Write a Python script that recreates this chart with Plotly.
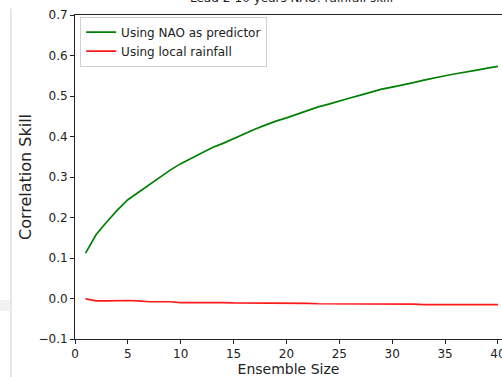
import plotly.graph_objects as go

ensemble_size = list(range(1, 41))
nao_skill = [0.112, 0.158, 0.189, 0.218, 0.244, 0.262, 0.282, 0.300, 0.317, 0.333,
             0.347, 0.361, 0.373, 0.383, 0.395, 0.408, 0.418, 0.428, 0.438, 0.446,
             0.455, 0.464, 0.473, 0.480, 0.488, 0.495, 0.502, 0.509, 0.517, 0.522,
             0.527, 0.533, 0.539, 0.545, 0.550, 0.555, 0.559, 0.564, 0.569, 0.573]
local_skill = [-0.001, -0.006, -0.006, -0.005, -0.005, -0.006, -0.008, -0.008, -0.008, -0.010,
               -0.010, -0.010, -0.009, -0.010, -0.011, -0.011, -0.011, -0.011, -0.011, -0.011,
               -0.012, -0.012, -0.013, -0.013, -0.013, -0.013, -0.013, -0.014, -0.014, -0.013,
               -0.014, -0.014, -0.015, -0.015, -0.014, -0.014, -0.015, -0.015, -0.015, -0.015]
x_ticks = [0, 5, 10, 15, 20, 25, 30, 35, 40]
y_ticks = [-0.1, 0.0, 0.1, 0.2, 0.3, 0.4, 0.5, 0.6, 0.7]
title_text = "Lead 2-10 years NAO: rainfall skill"

FONT = "DejaVu Sans"

fig = go.Figure()
fig.add_trace(go.Scatter(x=ensemble_size, y=nao_skill, mode="lines",
                         name="Using NAO as predictor",
                         line=dict(color="#008000", width=1.7)))
fig.add_trace(go.Scatter(x=ensemble_size, y=local_skill, mode="lines",
                         name="Using local rainfall",
                         line=dict(color="#ff1a1a", width=1.7)))

axis_common = dict(showgrid=False, zeroline=False, showline=True, linecolor="#222",
                   linewidth=1, ticks="outside", ticklen=4, tickwidth=1, tickcolor="#222",
                   automargin=False, ticklabeloverflow="allow",
                   tickfont=dict(family=FONT, size=12, color="#222"))

fig.update_layout(
    width=502, height=377,
    margin=dict(l=75, r=0, t=15, b=38, autoexpand=False),
    paper_bgcolor="white", plot_bgcolor="white",
    font=dict(family=FONT, color="#222"),
    showlegend=True,
    legend=dict(x=0.012, y=0.995, xanchor="left", yanchor="top",
                bgcolor="rgba(255,255,255,0.8)", bordercolor="#d0d0d0", borderwidth=1,
                font=dict(family=FONT, size=12, color="#222"),
                itemwidth=30, tracegroupgap=0),
    xaxis=dict(range=[0, 40.38], tickvals=x_ticks, ticktext=[str(v) for v in x_ticks],
               mirror=True,
               title=dict(text="Ensemble Size", font=dict(family=FONT, size=14, color="#222"),
                          standoff=2),
               **axis_common),
    yaxis=dict(range=[-0.1, 0.7], tickvals=y_ticks,
               ticktext=[f"{v:.1f}".replace("-", "\u2212") for v in y_ticks],
               title=dict(text="Correlation Skill", font=dict(family=FONT, size=16, color="#222"),
                          standoff=2),
               **axis_common),
)

fig.add_annotation(text=title_text, xref="paper", yref="paper", x=0.508, y=1.025,
                   xanchor="center", yanchor="bottom", showarrow=False,
                   font=dict(family=FONT, size=12, color="#222"))

# screenshot artefacts on the left edge
fig.add_shape(type="line", xref="paper", yref="paper", x0=-0.15, x1=-0.15, y0=-0.12, y1=1.02,
              line=dict(color="#cccccc", width=1))
fig.add_shape(type="rect", xref="paper", yref="paper", x0=-0.18, x1=-0.152,
              y0=(339 - 311) / 324, y1=(339 - 300) / 324,
              line=dict(width=0), fillcolor="#f2f2f2")

fig.write_html("out.html", config={"displayModeBar": False},
               post_script="document.body.style.margin='0';document.body.style.overflow='hidden';")
